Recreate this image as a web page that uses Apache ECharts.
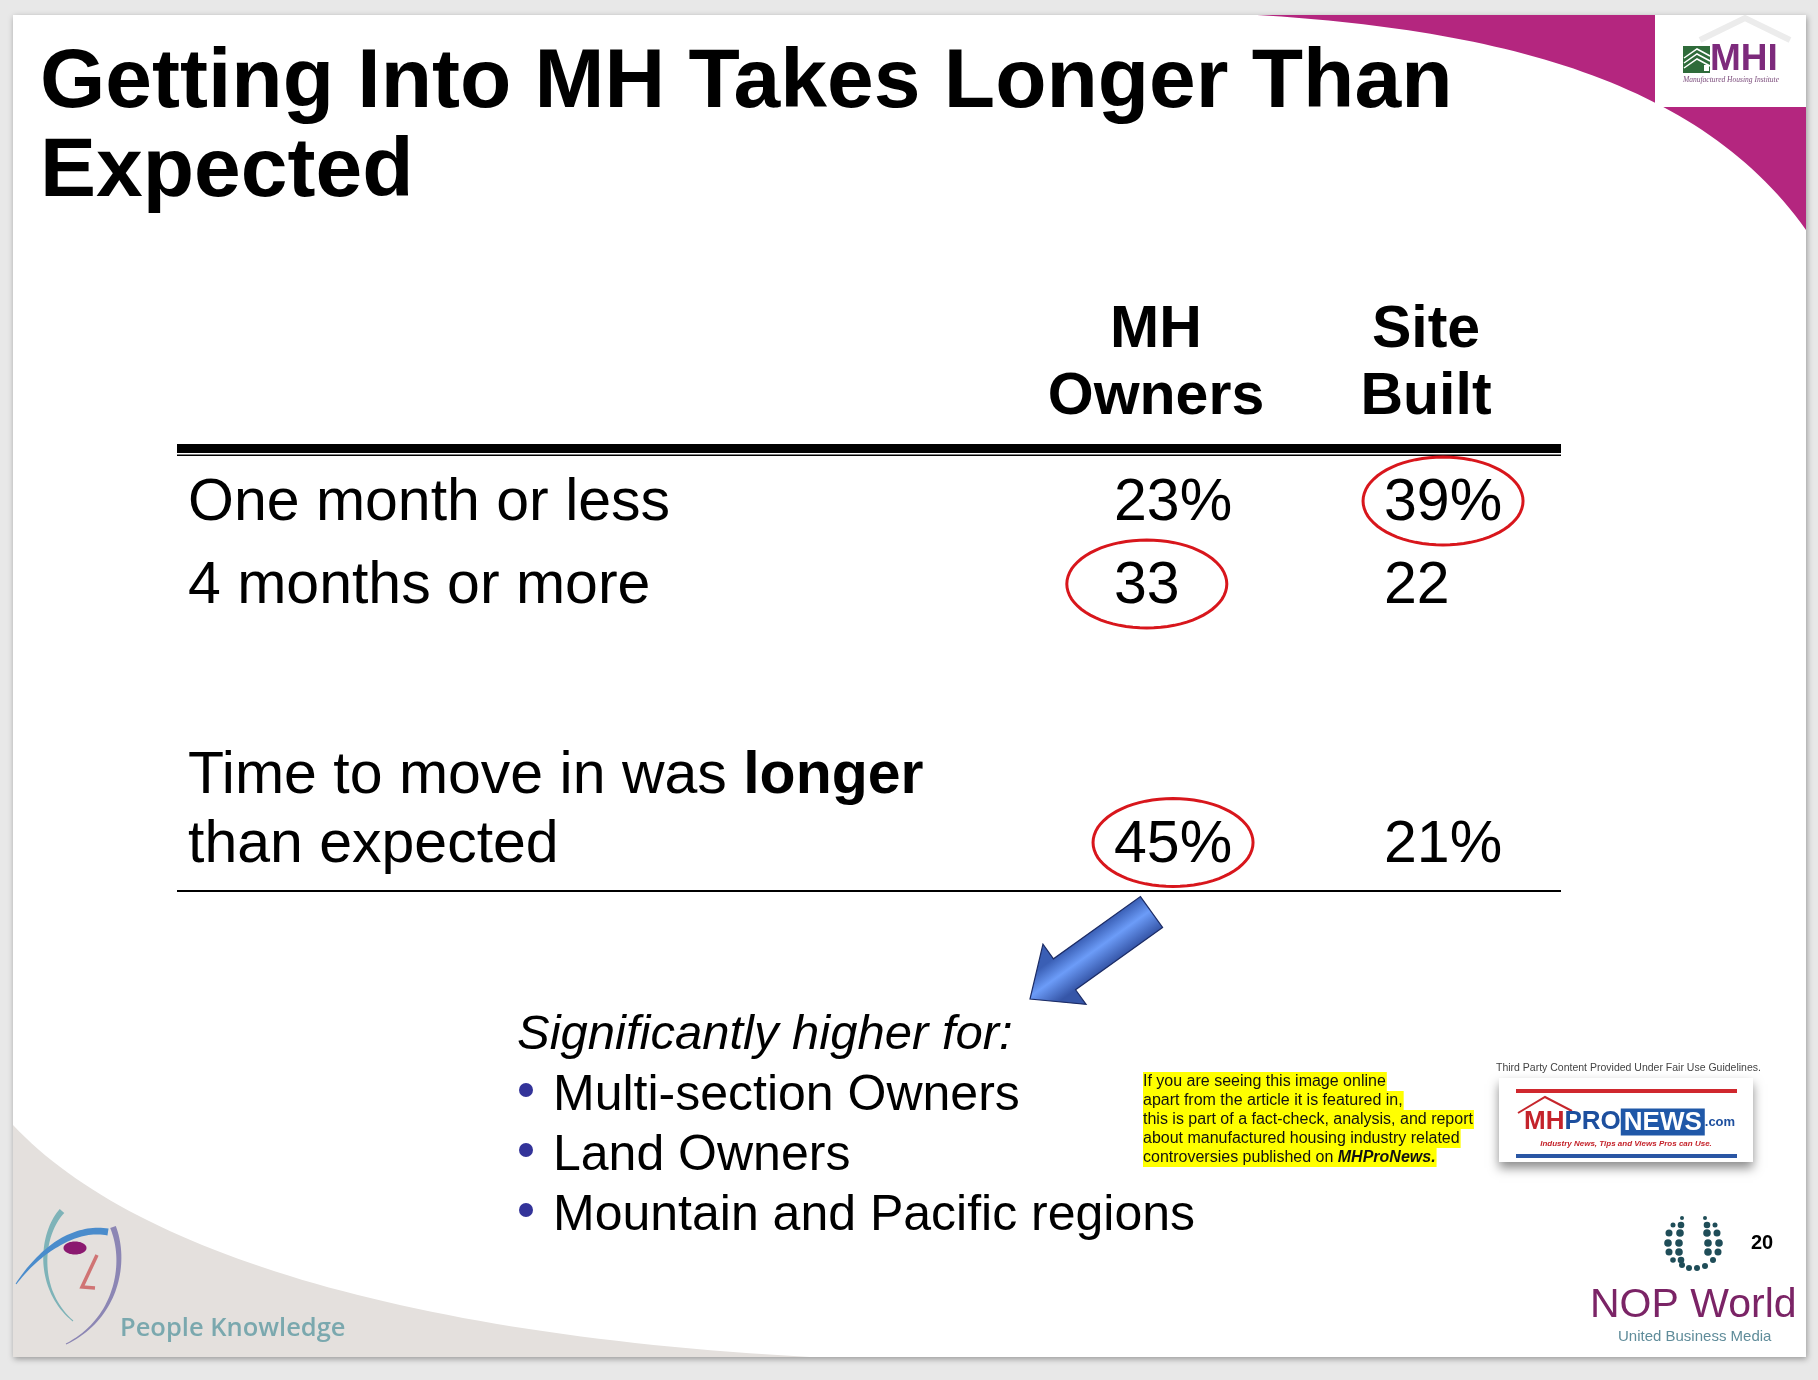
<!DOCTYPE html>
<html><head><meta charset="utf-8">
<script src="https://cdn.jsdelivr.net/npm/echarts@6/dist/echarts.min.js"></script>
<style>html,body{margin:0;padding:0;background:#e8e8e8}#c{width:1818px;height:1380px}</style>
</head><body><div id="c"></div>
<script>
// ---------------- DATA ----------------
const titleText = 'Getting Into MH Takes Longer Than\nExpected';
const columns = ['MH\nOwners', 'Site\nBuilt'];
const rowLabels = ['One month or less', '4 months or more', 'Time to move in was {b|longer}\nthan expected'];
const rowSection = [0, 0, 1];
const mhOwners = [23, 33, 45];
const siteBuilt = [39, 22, 21];
const valueSuffix = ['%', '', '%'];
const mhCircled = [0, 1, 1];
const siteCircled = [1, 0, 0];
const subheading = 'Significantly higher for:';
const bulletItems = ['Multi-section Owners', 'Land Owners', 'Mountain and Pacific regions'];
const noteLines = ['If you are seeing this image online', 'apart from the article it is featured in,', 'this is part of a fact-check, analysis, and report', 'about manufactured housing industry related', 'controversies published on {b|MHProNews.}'];
const fairUseText = 'Third Party Content Provided Under Fair Use Guidelines.';
const pageNumber = '20';

// ---------------- STYLE / LAYOUT ----------------
const FF = '"Liberation Sans", Arial, Helvetica, sans-serif';
const BODY = 59, ROW_LH = 69, HEAD_LH = 67;
const VALUE_OFFSET = -42;
const mctx = document.createElement('canvas').getContext('2d');
function tw(t, size, weight) { mctx.font = (weight || 'normal') + ' ' + size + 'px ' + FF; return mctx.measureText(t).width; }
function T(text, x, baseline, size, st, extra) {
  return Object.assign({ type: 'text', x: x, y: baseline - 0.3465 * size, z: 10,
    style: Object.assign({ text: text, fontSize: size, fontFamily: FF, fill: '#000', align: 'left', verticalAlign: 'middle' }, st || {}) }, extra || {});
}
function ellipsePts(cx, cy, rx, ry) {
  const pts = [];
  for (let i = 0; i < 72; i++) { const a = i / 72 * Math.PI * 2; pts.push([cx + rx * Math.cos(a), cy + ry * Math.sin(a)]); }
  return pts;
}
function cubicPts(p0, p1, p2, p3, n) {
  const pts = [];
  for (let i = 0; i <= n; i++) {
    const t = i / n, u = 1 - t;
    pts.push([u*u*u*p0[0] + 3*u*u*t*p1[0] + 3*u*t*t*p2[0] + t*t*t*p3[0], u*u*u*p0[1] + 3*u*u*t*p1[1] + 3*u*t*t*p2[1] + t*t*t*p3[1]]);
  }
  return pts;
}
// tapered stroke along a cubic: widths w0 -> wm -> w1
function taper(p0, p1, p2, p3, w0, wm, w1, color) {
  const c = cubicPts(p0, p1, p2, p3, 40), L = [], R = [];
  c.forEach((p, i) => {
    const q = c[Math.min(i + 1, c.length - 1)], o = c[Math.max(i - 1, 0)];
    const dx = q[0] - o[0], dy = q[1] - o[1], len = Math.hypot(dx, dy) || 1;
    const t = i / (c.length - 1);
    const w = t < 0.5 ? w0 + (wm - w0) * t * 2 : wm + (w1 - wm) * (t - 0.5) * 2;
    L.push([p[0] - dy / len * w / 2, p[1] + dx / len * w / 2]);
    R.push([p[0] + dy / len * w / 2, p[1] - dx / len * w / 2]);
  });
  return { type: 'polygon', z: 9, shape: { points: L.concat(R.reverse()) }, style: { fill: color } };
}

// build table data from arrays
const sectionData = [[], []];
const sectionRows = [[], []];
rowLabels.forEach((lab, i) => {
  const s = rowSection[i];
  const r = sectionRows[s].length;
  sectionRows[s].push(lab);
  sectionData[s].push([0, r, mhOwners[i], mhCircled[i], i]);
  sectionData[s].push([1, r, siteBuilt[i], siteCircled[i], i]);
});

function renderValue(params, api) {
  const pt = api.coord([api.value(0), api.value(1)]);
  const row = api.value(4);
  const lines = rowLabels[row].split('\n').length;
  const y = pt[1] + (lines - 1) * ROW_LH / 2;
  const text = api.value(2) + valueSuffix[row];
  const x = pt[0] + VALUE_OFFSET;
  const w = tw(text, BODY);
  const children = [{ type: 'text', x: x, y: y, style: { text: text, fontSize: BODY, fontFamily: FF, fill: '#000', align: 'left', verticalAlign: 'middle' } }];
  if (api.value(3)) {
    children.push({ type: 'polygon', shape: { points: ellipsePts(x + w / 2, y - 3, 80, 44) }, style: { fill: 'none', stroke: '#d8161c', lineWidth: 3 } });
  }
  return { type: 'group', children: children };
}

// arrow geometry
const aT = [1151.5, 912], aP = [1030, 999];
const aLen = Math.hypot(aP[0] - aT[0], aP[1] - aT[1]);
const ad = [(aP[0] - aT[0]) / aLen, (aP[1] - aT[1]) / aLen];
const nrm = [-ad[1], ad[0]];
const H = [aT[0] + ad[0] * 107, aT[1] + ad[1] * 107];
const sw = 19, hw = 37;
const P = (b, k) => [b[0] + nrm[0] * k, b[1] + nrm[1] * k];
const arrowPts = [P(aT, -sw), P(H, -sw), P(H, -hw), aP, P(H, hw), P(H, sw), P(aT, sw)];

// NOP logo dots [x, y, r]
const nopDots = [
  [1682, 1218, 2], [1705, 1218, 2],
  [1673, 1225, 2.5], [1681, 1225, 3.3], [1669, 1233, 3.5], [1680, 1233, 3.8], [1668, 1243, 3.8], [1679, 1243, 3.8],
  [1669, 1252, 3.5], [1679, 1252, 3.8], [1673, 1260, 2.8], [1681, 1260, 3.3],
  [1707, 1225, 3.3], [1715, 1225, 2.5], [1707, 1233, 3.8], [1717, 1233, 3.5], [1708, 1243, 3.8], [1719, 1243, 3.8],
  [1708, 1252, 3.8], [1718, 1252, 3.5], [1713, 1260, 3],
  [1682, 1265, 3], [1689, 1268, 3], [1697, 1268, 3], [1705, 1266, 3]
];

const magentaPts = cubicPts([1257, 15], [1500, 30], [1700, 80], [1806, 230], 60).concat([[1806, 15]]);
const grayPts = cubicPts([13, 1125], [130, 1250], [400, 1335], [810, 1357], 60).concat([[13, 1357]]);

const graphics = [
  { type: 'rect', z: -20, shape: { x: 13, y: 15, width: 1793, height: 1342 }, style: { fill: '#fff', shadowBlur: 6, shadowColor: 'rgba(0,0,0,0.35)', shadowOffsetX: 1, shadowOffsetY: 2 } },
  { type: 'polygon', z: -15, shape: { points: magentaPts }, style: { fill: '#b4267f' } },
  { type: 'polygon', z: -15, shape: { points: grayPts }, style: { fill: '#e4e0dd' } },
  // MHI logo
  { type: 'rect', z: -10, shape: { x: 1655, y: 15, width: 151, height: 92 }, style: { fill: '#fff' } },
  { type: 'polyline', z: -9, shape: { points: [[1700, 40], [1745, 18], [1790, 40]] }, style: { stroke: '#ececec', lineWidth: 6, fill: 'none' } },
  { type: 'rect', z: 5, shape: { x: 1683, y: 46, width: 27, height: 27 }, style: { fill: '#2f6b3a' } },
  { type: 'polyline', z: 6, shape: { points: [[1684, 58], [1697, 49], [1710, 56]] }, style: { stroke: '#fff', lineWidth: 1.5, fill: 'none' } },
  { type: 'polyline', z: 6, shape: { points: [[1684, 63], [1697, 54], [1710, 61]] }, style: { stroke: '#fff', lineWidth: 1.5, fill: 'none' } },
  { type: 'polyline', z: 6, shape: { points: [[1684, 68], [1697, 59], [1710, 66]] }, style: { stroke: '#fff', lineWidth: 1.5, fill: 'none' } },
  { type: 'rect', z: 6, shape: { x: 1704, y: 65, width: 5, height: 6 }, style: { fill: '#fff' } },
  T('MHI', 1710, 73, 37, { fontWeight: 'bold', fill: '#7d2a7c' }),
  T('Manufactured Housing Institute', 1683, 83, 7.5, { fontStyle: 'italic', fontFamily: '"Liberation Serif", serif', fill: '#7a4a7a' }),
  // table rules
  { type: 'rect', z: 5, shape: { x: 177, y: 444, width: 1384, height: 9 }, style: { fill: '#000' } },
  { type: 'rect', z: 5, shape: { x: 177, y: 454.5, width: 1384, height: 1.5 }, style: { fill: '#000' } },
  { type: 'rect', z: 5, shape: { x: 177, y: 890, width: 1384, height: 2 }, style: { fill: '#000' } },
  { type: 'polygon', z: 8, shape: { points: arrowPts },
    style: { fill: new echarts.graphic.LinearGradient(P(aT, -sw)[0], P(aT, -sw)[1], P(aT, sw)[0], P(aT, sw)[1], [{ offset: 0, color: '#3656a8' }, { offset: 0.55, color: '#6c9cf8' }, { offset: 1, color: '#3a5fb5' }], true), stroke: '#1c2c66', lineWidth: 1.2 } },
  T(subheading, 517, 1052, 49, { fontStyle: 'italic' })
];
bulletItems.forEach((b, i) => {
  const base = 1114 + i * 60;
  graphics.push({ type: 'circle', z: 10, shape: { cx: 526, cy: base - 24, r: 7 }, style: { fill: '#333399' } });
  graphics.push(T(b, 553, base, 50));
});
noteLines.forEach((l, i) => {
  graphics.push(T(l, 1143, 1087 + i * 19, 16, { backgroundColor: '#ffff00', lineHeight: 19, padding: [0, 1, 0, 0], fill: '#111', rich: { b: { fontWeight: 'bold', fontStyle: 'italic', fontSize: 16, fontFamily: FF, fill: '#111' } } }));
});
graphics.push(T(fairUseText, 1496, 1072, 10.5, { fill: '#444' }));
graphics.push({ type: 'rect', z: 8, shape: { x: 1499, y: 1078, width: 254, height: 84 }, style: { fill: '#fff', shadowBlur: 10, shadowOffsetY: 6, shadowColor: 'rgba(0,0,0,0.45)' } });
graphics.push({ type: 'rect', z: 9, shape: { x: 1516, y: 1089, width: 221, height: 4 }, style: { fill: '#d0282e' } });
graphics.push({ type: 'rect', z: 9, shape: { x: 1516, y: 1154, width: 221, height: 4 }, style: { fill: '#2a56a4' } });
graphics.push({ type: 'polyline', z: 9, shape: { points: [[1518, 1113], [1545, 1097], [1572, 1111]] }, style: { stroke: '#c6262c', lineWidth: 2, fill: 'none' } });
graphics.push(T('{a|MH}{p|PRO}{n|NEWS}{c|.com}', 1524, 1131, 26, { fontWeight: 'bold', rich: {
  a: { fill: '#c4232b', fontSize: 26, fontWeight: 'bold', fontFamily: FF },
  p: { fill: '#1d4f9e', fontSize: 26, fontWeight: 'bold', fontFamily: FF },
  n: { fill: '#fff', backgroundColor: '#2058a8', padding: [1, 3, 0, 3], fontSize: 26, fontWeight: 'bold', fontFamily: FF },
  c: { fill: '#1d4f9e', fontSize: 13, fontWeight: 'bold', fontFamily: FF } } }));
graphics.push(T('Industry News, Tips and Views Pros can Use.', 1626, 1147, 8, { fontStyle: 'italic', fontWeight: 'bold', fill: '#c4232b', align: 'center' }));
nopDots.forEach(d => graphics.push({ type: 'circle', z: 9, shape: { cx: d[0], cy: d[1], r: d[2] }, style: { fill: '#1f4d58' } }));
graphics.push(T(pageNumber, 1751, 1250, 20, { fontWeight: 'bold' }));
graphics.push(T('NOP World', 1590, 1320, 41, { fill: '#7b2466' }));
graphics.push(T('United Business Media', 1618, 1342, 15, { fill: '#5f8c9a' }));
// People Knowledge face
graphics.push(taper([62, 1211], [40, 1235], [36, 1290], [73, 1321], 6, 4, 1, '#7eb3b8'));
graphics.push(taper([16, 1284], [40, 1250], [75, 1226], [108, 1232], 1, 6, 7, '#4a8ccc'));
graphics.push(taper([113, 1227], [128, 1265], [115, 1320], [66, 1344], 6, 4, 1, '#8c86b4'));
graphics.push({ type: 'polygon', z: 9, shape: { points: ellipsePts(75, 1248, 11.5, 6.5) }, style: { fill: '#8b1a70' } });
graphics.push({ type: 'polyline', z: 9, shape: { points: [[97, 1255], [82, 1287], [95, 1288]] }, style: { stroke: '#d07474', lineWidth: 3.5, fill: 'none' } });
graphics.push(T('People Knowledge', 120, 1338, 25.5, { fontFamily: '"Open Sans", sans-serif', fontWeight: 600, fill: '#7aa8ae' }));

const chart = echarts.init(document.getElementById('c'));
const axisOff = { axisLine: { show: false }, axisTick: { show: false }, splitLine: { show: false } };
chart.setOption({
  backgroundColor: '#e8e8e8',
  animation: false,
  title: { text: titleText, left: 40, top: 39, padding: 0, textStyle: { fontSize: 84, fontWeight: 'bold', lineHeight: 89, fontFamily: FF, color: '#000' } },
  grid: [
    { left: 1021, width: 540, top: 462.5, height: 166, outerBoundsMode: 'none' },
    { left: 1021, width: 540, top: 742, height: 138, outerBoundsMode: 'none' }
  ],
  xAxis: [
    Object.assign({ gridIndex: 0, type: 'category', data: columns, position: 'top', z: 5,
      axisLabel: { interval: 0, margin: 31, fontSize: BODY, fontWeight: 'bold', lineHeight: HEAD_LH, color: '#000', fontFamily: FF } }, axisOff),
    Object.assign({ gridIndex: 1, type: 'category', data: columns, axisLabel: { show: false } }, axisOff)
  ],
  yAxis: [
    Object.assign({ gridIndex: 0, type: 'category', inverse: true, data: sectionRows[0], z: 5,
      axisLabel: { interval: 0, align: 'left', margin: 833, fontSize: BODY, color: '#000', fontFamily: FF } }, axisOff),
    Object.assign({ gridIndex: 1, type: 'category', inverse: true, data: sectionRows[1], z: 5,
      axisLabel: { interval: 0, align: 'left', margin: 833, fontSize: BODY, lineHeight: ROW_LH, color: '#000', fontFamily: FF,
        rich: { b: { fontWeight: 'bold', fontSize: BODY, lineHeight: ROW_LH, fontFamily: FF, color: '#000' } } } }, axisOff)
  ],
  series: [0, 1].map(s => ({
    type: 'custom', xAxisIndex: s, yAxisIndex: s, clip: false, z: 10,
    encode: { x: 0, y: 1 }, data: sectionData[s], renderItem: renderValue
  })),
  graphic: { elements: graphics }
});
</script></body></html>
